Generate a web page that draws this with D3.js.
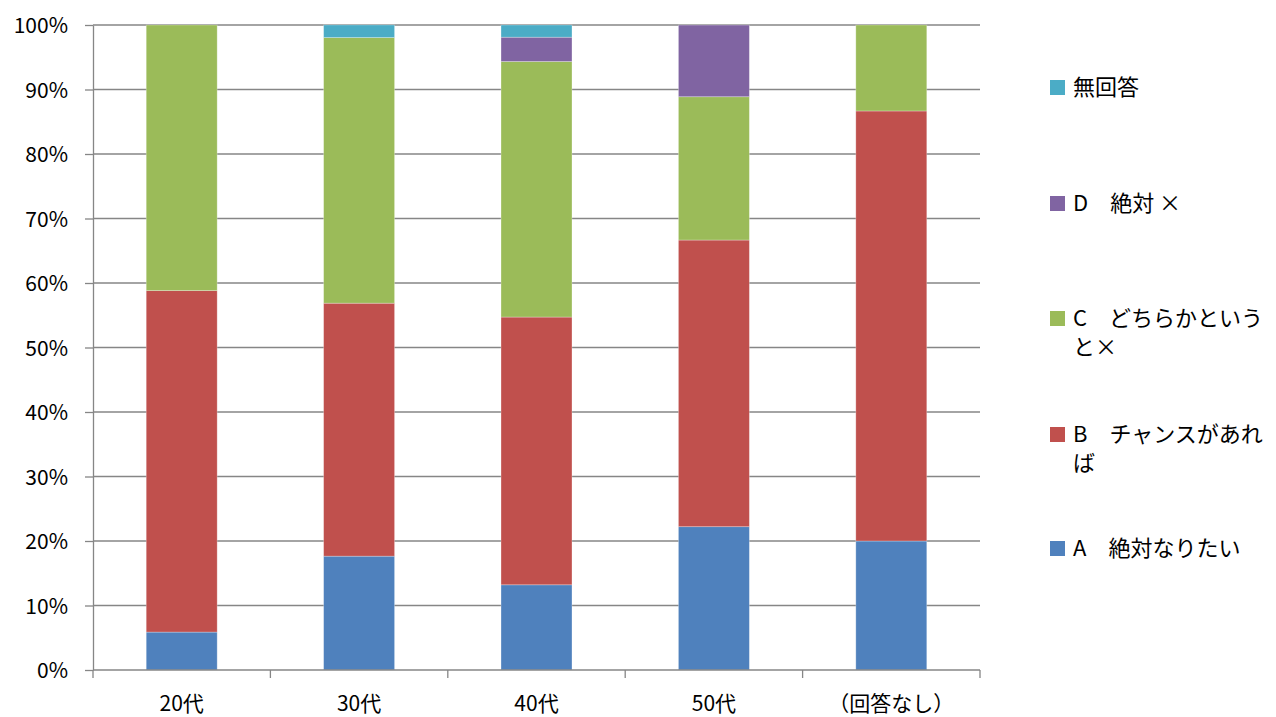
<!DOCTYPE html>
<html>
<head>
<meta charset="utf-8">
<script src="https://cdn.jsdelivr.net/npm/d3@7/dist/d3.min.js"></script>
<style>
  html, body { margin: 0; padding: 0; background: #fff; }
  svg { display: block; }
  text { font-family: "Noto Sans CJK JP", "Liberation Sans", sans-serif; fill: #000; }
</style>
</head>
<body>
<svg id="chart" width="1276" height="717"></svg>
<script>
// Age groups on the x axis
const categories = ["20代", "30代", "40代", "50代", "（回答なし）"];

// Share of each answer per age group (percent), stacked bottom to top
const seriesNames = ["A　絶対なりたい", "B　チャンスがあれば", "C　どちらかというと×", "D　絶対 ×", "無回答"];
const valuesA    = [5.88, 17.65, 13.21, 22.22, 20.00];
const valuesB    = [52.94, 39.22, 41.51, 44.44, 66.67];
const valuesC    = [41.18, 41.18, 39.62, 22.22, 13.33];
const valuesD    = [0, 0, 3.77, 11.11, 0];
const valuesNone = [0, 1.96, 1.89, 0, 0];
const seriesColors = ["#4F81BD", "#C0504D", "#9BBB59", "#8064A2", "#4BACC6"];

const yTicks = [0, 10, 20, 30, 40, 50, 60, 70, 80, 90, 100];

const allValues = [valuesA, valuesB, valuesC, valuesD, valuesNone];
const keys = ["a", "b", "c", "d", "none"];
const rows = categories.map((cat, i) => {
  const r = { cat };
  keys.forEach((k, j) => r[k] = allValues[j][i]);
  return r;
});

const svg = d3.select("#chart");
const plot = { left: 93, right: 980, top: 25, bottom: 670 };

const x = d3.scaleBand()
  .domain(categories)
  .range([plot.left, plot.right])
  .paddingInner(0.6)
  .paddingOuter(0.3);

const y = d3.scaleLinear()
  .domain([0, 100])
  .range([plot.bottom, plot.top]);

const gridColor = "#868686";

// Horizontal gridlines
svg.append("g")
  .selectAll("line")
  .data(yTicks.filter(t => t > 0))
  .join("line")
  .attr("x1", plot.left).attr("x2", plot.right)
  .attr("y1", d => y(d)).attr("y2", d => y(d))
  .attr("stroke", gridColor).attr("stroke-width", 1.3);

// Stacked bars
const stack = d3.stack().keys(keys);
const layers = stack(rows);

svg.append("g")
  .selectAll("g")
  .data(layers)
  .join("g")
  .attr("fill", (d, i) => seriesColors[i])
  .selectAll("rect")
  .data(d => d.filter(p => p[1] - p[0] > 0))
  .join("rect")
  .attr("x", d => x(d.data.cat))
  .attr("width", x.bandwidth())
  .attr("y", d => y(d[1]))
  .attr("height", d => y(d[0]) - y(d[1]))
  .attr("stroke", "rgba(255,255,255,0.35)")
  .attr("stroke-width", 0.8);

// Y axis
const yAxis = svg.append("g")
  .attr("transform", `translate(${plot.left},0)`)
  .call(d3.axisLeft(y).tickValues(yTicks).tickFormat(d => d + "%").tickSize(8).tickSizeOuter(0));
yAxis.select(".domain").attr("stroke", gridColor).attr("stroke-width", 1.3);
yAxis.selectAll(".tick line").attr("stroke", gridColor).attr("stroke-width", 1.3);
yAxis.selectAll(".tick text")
  .attr("x", -25)
  .attr("dy", "0.36em")
  .style("font-size", "21px")
  .style("font-family", "\"Noto Sans CJK JP\", sans-serif")
  .attr("fill", "#000");

// X axis: tick marks at band boundaries, labels centred on bars
const xAxisG = svg.append("g");
xAxisG.append("line")
  .attr("x1", plot.left).attr("x2", plot.right)
  .attr("y1", plot.bottom).attr("y2", plot.bottom)
  .attr("stroke", gridColor).attr("stroke-width", 1.3);
const boundaries = d3.range(categories.length + 1).map(i => plot.left + i * (plot.right - plot.left) / categories.length);
xAxisG.selectAll("line.tick")
  .data(boundaries)
  .join("line")
  .attr("class", "tick")
  .attr("x1", d => d).attr("x2", d => d)
  .attr("y1", plot.bottom).attr("y2", plot.bottom + 8)
  .attr("stroke", gridColor).attr("stroke-width", 1.3);
xAxisG.selectAll("text")
  .data(categories)
  .join("text")
  .attr("x", d => x(d) + x.bandwidth() / 2)
  .attr("y", 711)
  .attr("text-anchor", "middle")
  .style("font-size", "21px")
  .text(d => d);

// Legend, listed top to bottom in reverse stacking order
const legendY = [87, 203, 318, 434, 548];
const legendOrder = [4, 3, 2, 1, 0];
const legend = svg.append("g");
const maxTextWidth = 196;

legendOrder.forEach((si, row) => {
  const cy = legendY[row];
  legend.append("rect")
    .attr("x", 1050).attr("y", cy - 7)
    .attr("width", 15).attr("height", 15)
    .attr("fill", seriesColors[si]);
  const t = legend.append("text")
    .attr("x", 1073)
    .attr("y", cy)
    .style("font-size", "22px");
  // Wrap characters onto new lines when they exceed the legend width
  const chars = Array.from(seriesNames[si]);
  let line = "";
  let tspan = t.append("tspan").attr("x", 1073).attr("dy", "0.36em");
  chars.forEach(ch => {
    const test = line + ch;
    tspan.text(test);
    if (tspan.node().getComputedTextLength() > maxTextWidth && line.length > 0) {
      tspan.text(line);
      line = ch;
      tspan = t.append("tspan").attr("x", 1073).attr("dy", "29px").text(line);
    } else {
      line = test;
    }
  });
});
</script>
</body>
</html>
